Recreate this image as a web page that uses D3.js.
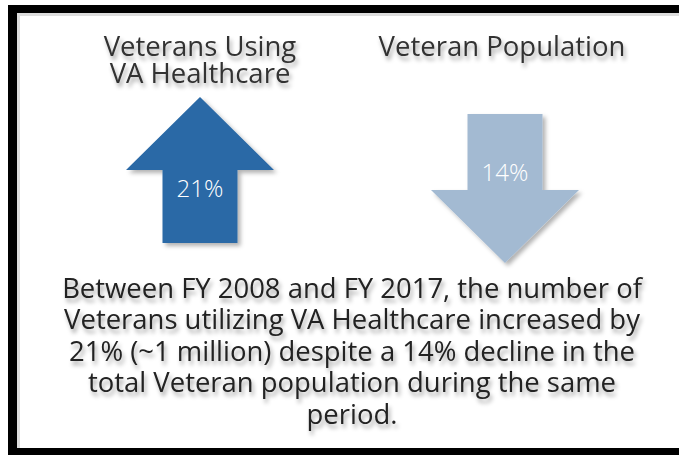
<!DOCTYPE html>
<html><head><meta charset="utf-8">
<script src="https://cdn.jsdelivr.net/npm/d3@7"></script>
<style>html,body{margin:0;padding:0;background:#fff}svg{display:block}</style>
</head><body>
<script>
const categories = ["Veterans Using VA Healthcare", "Veteran Population"];
const titleLines = [["Veterans Using", "VA Healthcare"], ["Veteran Population"]];
const changes = [21, -14];
const changeLabels = ["21%", "14%"];
const colors = ["#2a69a6", "#a3bad2"];
const paragraph = [
  "Between FY 2008 and FY 2017, the number of",
  "Veterans utilizing VA Healthcare increased by",
  "21% (~1 million) despite a 14% decline in the",
  "total Veteran population during the same",
  "period."
];

const W = 679, H = 455;
const svg = d3.select("body").append("svg").attr("width", W).attr("height", H);
const defs = svg.append("defs");
const f = defs.append("filter").attr("id", "ts").attr("x", "-20%").attr("y", "-40%").attr("width", "140%").attr("height", "200%");
f.append("feDropShadow").attr("dx", 2).attr("dy", 4).attr("stdDeviation", 2.2).attr("flood-color", "#000").attr("flood-opacity", 0.35);
const f2 = defs.append("filter").attr("id", "as").attr("x", "-20%").attr("y", "-20%").attr("width", "140%").attr("height", "140%");
f2.append("feDropShadow").attr("dx", 3).attr("dy", 3).attr("stdDeviation", 2).attr("flood-color", "#000").attr("flood-opacity", 0.3);

// frame
svg.append("rect").attr("x", 8).attr("y", 5).attr("width", W - 8).attr("height", 8).attr("fill", "#000");
svg.append("rect").attr("x", 8).attr("y", 5).attr("width", 9).attr("height", H - 5).attr("fill", "#000");
svg.append("rect").attr("x", 8).attr("y", 448).attr("width", W - 8).attr("height", 7).attr("fill", "#000");
svg.append("rect").attr("x", 17).attr("y", 13).attr("width", W - 17).attr("height", 3).attr("fill", "#ddd");
svg.append("rect").attr("x", 17).attr("y", 13).attr("width", 3).attr("height", 435).attr("fill", "#ddd");

const x = d3.scalePoint().domain(categories).range([200, 502]);
const arrowTop = {up: 97, down: 114};
const shaftW = 75, headW = 148, headL = 73, total = 146;

const font = "'Open Sans', 'Noto Sans', sans-serif";

// titles
categories.forEach((c, i) => {
  const t = svg.append("text").attr("text-anchor", "middle").attr("font-family", font)
    .attr("font-size", 27.5).attr("fill", "#333").attr("filter", "url(#ts)");
  titleLines[i].forEach((ln, j) => {
    t.append("tspan").attr("x", x(c)).attr("y", 56 + j * 27).text(ln);
  });
});

// arrows
categories.forEach((c, i) => {
  const cx = x(c), v = changes[i];
  const ax = v >= 0 ? cx : cx + 3;
  let pts;
  if (v >= 0) {
    const t = arrowTop.up, b = t + total, hy = t + headL;
    pts = [[ax, t], [ax + headW / 2, hy], [ax + shaftW / 2, hy], [ax + shaftW / 2, b], [ax - shaftW / 2, b], [ax - shaftW / 2, hy], [ax - headW / 2, hy]];
  } else {
    const t = arrowTop.down, b = t + total + 3, hy = b - headL;
    pts = [[ax - shaftW / 2, t], [ax + shaftW / 2, t], [ax + shaftW / 2, hy], [ax + headW / 2, hy], [ax, b], [ax - headW / 2, hy], [ax - shaftW / 2, hy]];
  }
  svg.append("path").attr("d", d3.line()(pts) + "Z").attr("fill", colors[i]).attr("filter", "url(#as)");
  svg.append("text").attr("x", ax).attr("y", v >= 0 ? 197 : 181).attr("text-anchor", "middle")
    .attr("font-family", font).attr("font-size", 24).attr("font-weight", 300).attr("fill", "#fff").text(changeLabels[i]);
});

// paragraph
const pg = svg.append("g").attr("filter", "url(#ts)");
const lines = pg.selectAll("text").data(paragraph).join("text")
  .attr("text-anchor", "middle").attr("font-family", font).attr("font-size", 28).attr("fill", "#222")
  .attr("y", (d, i) => 298 + i * 31.5).attr("x", 0).text(d => d);
const w0 = lines.node().getComputedTextLength();
const sx = 580 / w0;
lines.attr("transform", `translate(352,0) scale(${sx},1)`);
</script>
</body></html>
